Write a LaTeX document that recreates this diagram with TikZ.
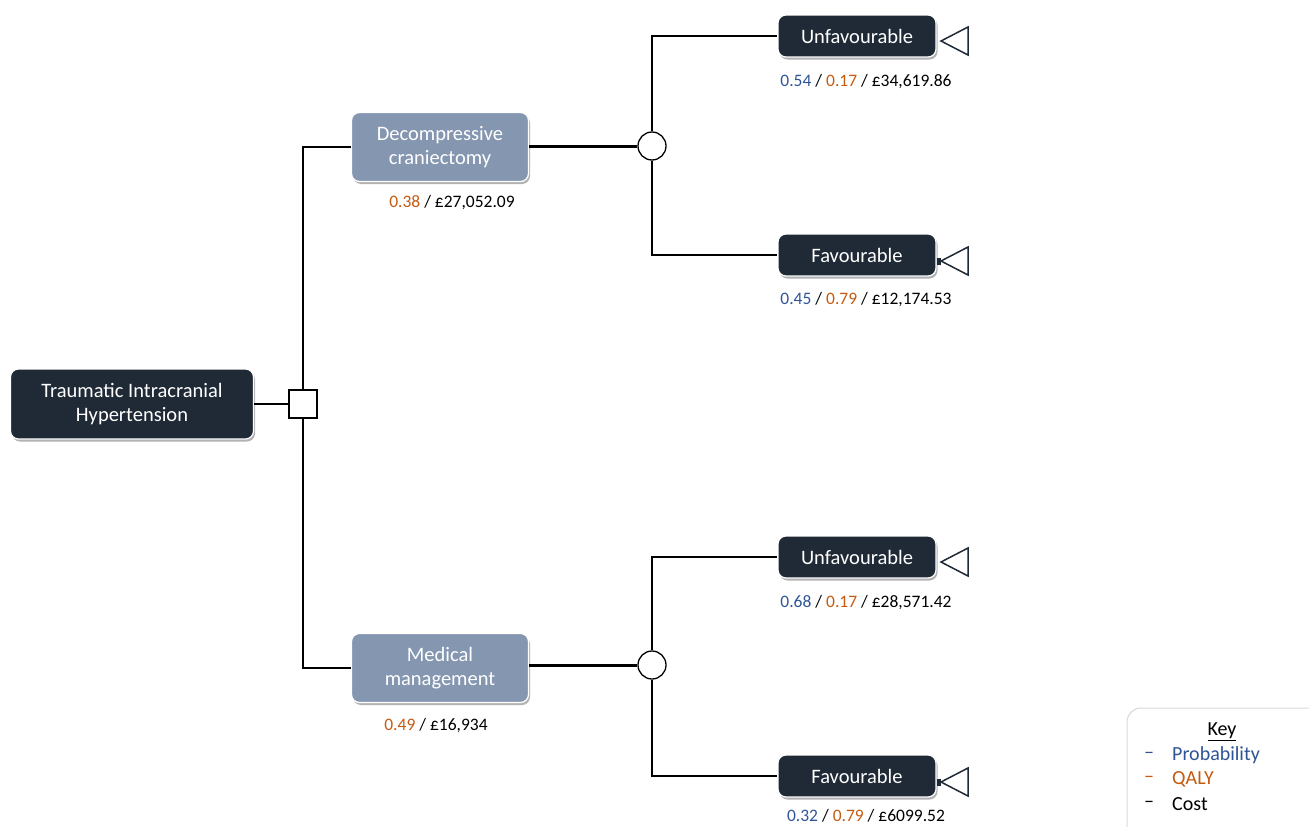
\documentclass[tikz,border=0pt]{standalone}
\usepackage{fontspec}
\setmainfont{Carlito}
\usetikzlibrary{shadows}
\definecolor{darkbox}{HTML}{1F2A36}
\definecolor{slatebox}{HTML}{8496B0}
\definecolor{pblue}{HTML}{2F5597}
\definecolor{qorange}{HTML}{C55A11}
\begin{document}
\begin{tikzpicture}[x=1pt,y=-1pt,
  boxbase/.style={rounded corners=8pt, draw=white, line width=1.2pt, text=white, align=center,
    font=\fontsize{20.5}{24}\selectfont, inner sep=0pt,
    drop shadow={shadow xshift=1.5pt, shadow yshift=-2.5pt, opacity=0.5, fill=black!60}},
  darknode/.style={boxbase, fill=darkbox},
  slatenode/.style={boxbase, fill=slatebox},
  lbl/.style={font=\fontsize{17.5}{21}\selectfont, inner sep=0pt},
  chance/.style={circle, draw=black, fill=white, line width=1.3pt, minimum size=28pt, inner sep=0pt},
  decision/.style={rectangle, draw=black, fill=white, line width=1.3pt, minimum size=28pt, inner sep=0pt},
  conn/.style={draw=black, line width=1.3pt},
  thickconn/.style={draw=black, line width=3pt},
  termtri/.style={draw=darkbox, fill=white, line width=1.5pt, line join=miter},
  keytext/.style={font=\fontsize{20}{24}\selectfont, inner sep=0pt, anchor=west}
]
\useasboundingbox (0,0) rectangle (1309,827);

% nodes
\node[darknode, minimum width=243pt, minimum height=70pt] (root) at (132,404) {Traumatic Intracranial\\Hypertension};
\node[decision] (sq) at (303,404) {};
\node[slatenode, minimum width=177pt, minimum height=69pt] (dc) at (440,147) {Decompressive\\craniectomy};
\node[slatenode, minimum width=177pt, minimum height=69pt] (mm) at (440,668) {Medical\\management};
\node[chance] (c1) at (652,146) {};
\node[chance] (c2) at (652,665) {};

\node[darknode, minimum width=158pt, minimum height=42pt] (u1) at (857,36) {Unfavourable};
\node[darknode, minimum width=158pt, minimum height=42pt] (f1) at (857,255) {Favourable};
\node[darknode, minimum width=158pt, minimum height=42pt] (u2) at (857,557) {Unfavourable};
\node[darknode, minimum width=158pt, minimum height=42pt] (f2) at (857,776) {Favourable};

% terminal triangles
\coordinate (tu1) at (941,41);
\coordinate (tf1) at (941,261);
\coordinate (tu2) at (941,562);
\coordinate (tf2) at (941,782);
\foreach \t in {tu1,tf1,tu2,tf2}{
  \draw[termtri] (\t) -- ++(27,-14) -- ++(0,28) -- cycle;
}

% connectors
\draw[conn] (root.east |- sq) -- (sq.west);
\draw[conn] (sq.north) |- (dc.west);
\draw[conn] (sq.south) |- (mm.west);
\draw[thickconn] (dc.east |- c1) -- (c1.west);
\draw[thickconn] (mm.east |- c2) -- (c2.west);
\draw[conn] (c1.north) |- (u1.west);
\draw[conn] (c1.south) |- (f1.west);
\draw[conn] (c2.north) |- (u2.west);
\draw[conn] (c2.south) |- (f2.west);
\draw[draw=darkbox, line width=7pt] (f1.east |- tf1) -- (tf1);
\draw[draw=darkbox, line width=7pt] (f2.east |- tf2) -- (tf2);

% labels
\node[lbl] (lu1) at (866,82) {\textcolor{pblue}{0.54} / \textcolor{qorange}{0.17} / £34,619.86};
\node[lbl] (lf1) at (866,300) {\textcolor{pblue}{0.45} / \textcolor{qorange}{0.79} / £12,174.53};
\node[lbl] (lu2) at (866,603) {\textcolor{pblue}{0.68} / \textcolor{qorange}{0.17} / £28,571.42};
\node[lbl] (lf2) at (866,816) {\textcolor{pblue}{0.32} / \textcolor{qorange}{0.79} / £6099.52};
\node[lbl] (ldc) at (452,203) {\textcolor{qorange}{0.38} / £27,052.09};
\node[lbl] (lmm) at (436,726) {\textcolor{qorange}{0.49} / £16,934};

% key
\draw[rounded corners=14pt, draw=black!15, fill=white, line width=1pt,
  drop shadow={shadow xshift=1.5pt, shadow yshift=-2.5pt, opacity=0.5, fill=black!55}]
  (1127,708) rectangle (1330,845);
\node[keytext, anchor=center] (kt) at (1222,732) {\underline{Key}};
\node[keytext, text=pblue] (kd1) at (1144,755) {–};
\node[keytext, text=pblue] (kp) at (1172,755) {Probability};
\node[keytext, text=qorange] (kd2) at (1144,779) {–};
\node[keytext, text=qorange] (kq) at (1172,779) {QALY};
\node[keytext] (kd3) at (1144,804) {–};
\node[keytext] (kc) at (1172,804) {Cost};
\end{tikzpicture}
\end{document}
